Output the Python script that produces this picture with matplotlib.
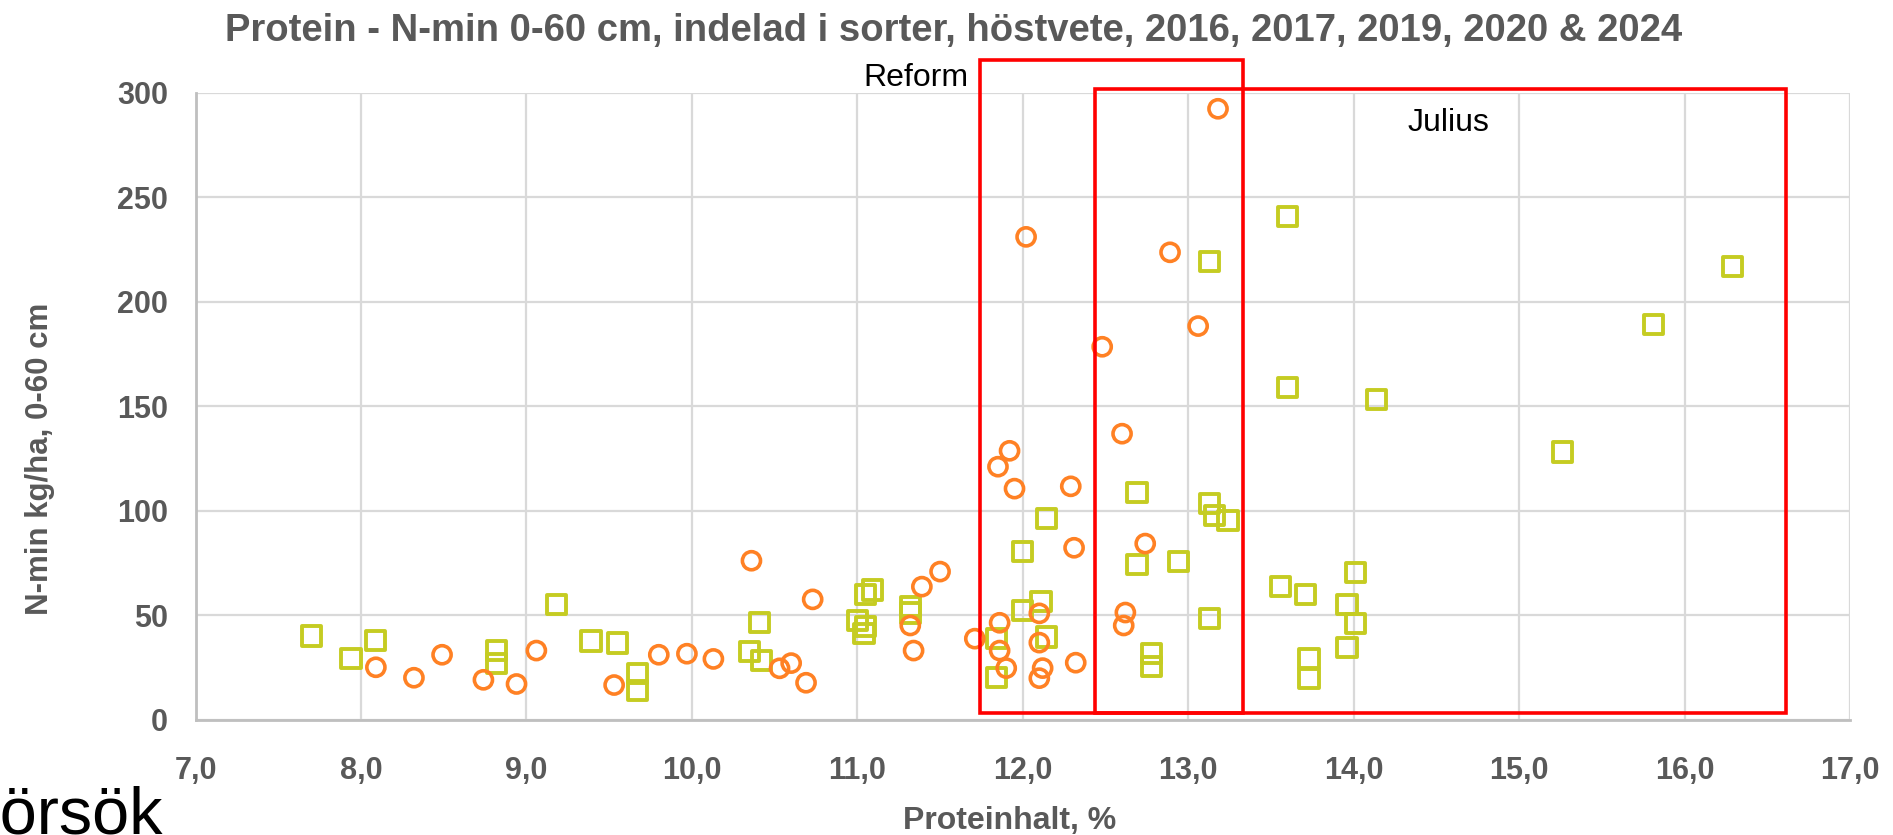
import numpy as np
import matplotlib
matplotlib.use("Agg")
import matplotlib.pyplot as plt
from matplotlib.patches import Rectangle

plt.rcParams['font.family'] = ['Liberation Sans', 'DejaVu Sans']

# ---- data ----
protein_orange = [8.09, 8.32, 8.49, 8.74, 8.94, 9.06, 9.53, 9.80, 9.97, 10.13,
                  10.36, 10.53, 10.60, 10.69, 10.73, 11.32, 11.34, 11.39, 11.50, 11.71,
                  11.86, 11.86, 11.92, 11.85, 11.95, 11.90, 12.02, 12.10, 12.10, 12.12,
                  12.10, 12.29, 12.31, 12.32, 12.48, 12.60, 12.62, 12.61, 12.74, 12.89,
                  13.06, 13.18]
nmin_orange = [25, 20, 31, 19, 17, 33, 16.5, 31, 31.5, 29,
               76, 24.5, 27, 17.6, 57.5, 45, 33, 63.6, 70.8, 38.7,
               46.3, 33, 128.6, 121, 110.5, 24.6, 231, 50.8, 36.8, 24.6,
               19.8, 111.6, 82.2, 27.2, 178.4, 136.8, 51.2, 45, 84.2, 223.6,
               188.3, 292.3]

protein_green = [7.70, 7.94, 8.09, 8.82, 8.82, 9.18, 9.39, 9.55, 9.67, 9.67,
                 10.35, 10.42, 10.41, 11.00, 11.04, 11.05, 11.05, 11.09, 11.32, 11.32,
                 11.84, 11.84, 12.00, 12.00, 12.11, 12.145, 12.145, 12.69, 12.69, 12.94,
                 12.78, 12.78, 13.13, 13.16, 13.24, 13.13, 13.13, 13.56, 13.71, 13.60,
                 13.60, 14.01, 13.96, 14.01, 13.96, 13.73, 13.73, 14.14, 15.26, 15.81,
                 16.29]
nmin_green = [40, 29, 38, 33, 27, 55, 37.6, 36.6, 22, 14,
              32.4, 28.4, 46.3, 47.3, 41.2, 44.7, 60, 62, 54, 51,
              38.8, 20.2, 80.5, 52.2, 56.4, 96.3, 39.5, 108.8, 74.2, 75.7,
              31.7, 25.4, 103.2, 97.6, 95.2, 48.4, 219.2, 63.5, 59.8, 240.7,
              158.7, 70.2, 55.2, 46, 34.4, 29.4, 19.8, 153, 128, 189,
              217]

x_ticks = np.arange(7, 18, 1)
y_ticks = np.arange(0, 301, 50)

# box around each variety: (x0, x1, y0, y1)
reform_box = (11.74, 13.33, 2.9, 315.8)
julius_box = (12.435, 16.61, 2.9, 302)

grey = '#595959'

fig = plt.figure(figsize=(18.93, 8.35), dpi=100)
ax = fig.add_axes([0.1033, 0.1383, 0.874, 0.7507])

ax.scatter(protein_green, nmin_green, s=190, marker='s', facecolors='none',
           edgecolors='#C5CC22', linewidths=2.8, zorder=3)
ax.scatter(protein_orange, nmin_orange, s=170, marker='o', facecolors='none',
           edgecolors='#FF8124', linewidths=2.6, zorder=3)

ax.set_xlim(7, 17)
ax.set_ylim(0, 300)
ax.set_xticks(x_ticks)
ax.set_yticks(y_ticks)
ax.set_xticklabels([f"{v:.1f}".replace('.', ',') for v in x_ticks])
ax.grid(True, color='#D9D9D9', linewidth=1.6, zorder=0)
ax.set_axisbelow(True)
for side in ['top', 'right']:
    ax.spines[side].set_visible(False)
for side in ['left', 'bottom']:
    ax.spines[side].set_color('#BFBFBF')
    ax.spines[side].set_linewidth(2)
ax.tick_params(length=0, labelsize=22, labelcolor=grey)
ax.tick_params(axis='x', pad=26)
ax.tick_params(axis='y', pad=20)
for lab in ax.get_xticklabels() + ax.get_yticklabels():
    lab.set_fontweight('bold')

for (x0, x1, y0, y1) in [reform_box, julius_box]:
    ax.add_patch(Rectangle((x0, y0), x1 - x0, y1 - y0, fill=False,
                           edgecolor='#FF0000', linewidth=2.6, zorder=5, clip_on=False))

ax.text(11.67, 303, "Reform", fontsize=23, ha='right', va='baseline', color='black')
ax.text(14.575, 281.6, "Julius", fontsize=23, ha='center', va='baseline', color='black')

fig.text(0.504, 0.963, "Protein - N-min 0-60 cm, indelad i sorter, höstvete, 2016, 2017, 2019, 2020 & 2024",
         fontsize=27.5, fontweight='bold', color=grey, ha='center', va='center')
fig.text(0.021, 0.45, "N-min kg/ha, 0-60 cm", fontsize=22.5, fontweight='bold', color=grey,
         rotation=90, ha='center', va='center')
fig.text(0.5335, 0.0168, "Proteinhalt, %", fontsize=23, fontweight='bold', color=grey,
         ha='center', va='center')
# text box from the slide that is cut off at the left edge
fig.text(163 / 1893, 0.002, "Försök", fontsize=48, color='black', ha='right', va='baseline')

fig.savefig("out.png", dpi=100)
